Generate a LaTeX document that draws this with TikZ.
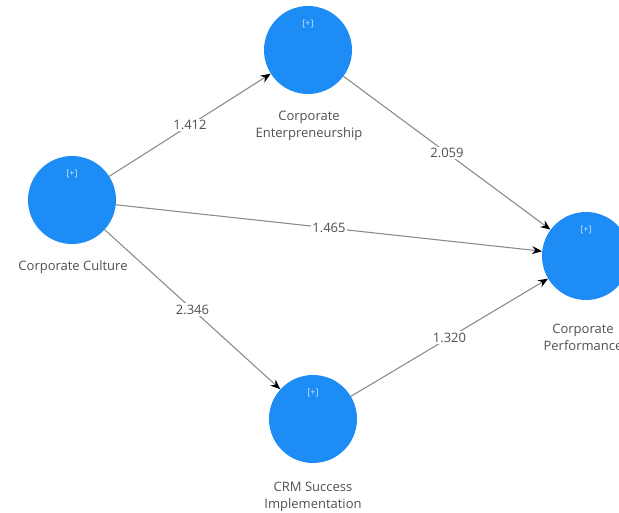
\documentclass[tikz,border=0pt]{standalone}
\usepackage{fontspec}
\setmainfont{Open Sans}
\usetikzlibrary{arrows.meta}
\definecolor{lvblue}{HTML}{1E8CF5}
\definecolor{txtgray}{HTML}{505050}
\definecolor{edgegray}{HTML}{8C8C8C}
\begin{document}
\begin{tikzpicture}[x=1pt,y=-1pt,
  lv/.style={circle, fill=lvblue, minimum size=88pt, inner sep=0pt},
  plus/.style={font=\fontsize{9}{10}\selectfont, text=white!80!lvblue, inner sep=0pt},
  lvlabel/.style={font=\fontsize{13}{17}\selectfont, text=txtgray, align=center, inner sep=0pt},
  pathline/.style={draw=edgegray, line width=1.1pt, -{Stealth[length=10pt,width=8pt,color=black]}},
  coef/.style={fill=white, font=\fontsize{13}{15}\selectfont, text=txtgray, inner sep=1.5pt}]
\useasboundingbox (0,0) rectangle (619,512);
% latent variables
\node[lv] (cc) at (72,200) {};
\node[lv] (ce) at (308,50) {};
\node[lv] (cp) at (586,256) {};
\node[lv] (crm) at (313,419) {};
% [+] markers
\node[plus] (ccplus) at (72,174) {[+]};
\node[plus] (ceplus) at (308,24) {[+]};
\node[plus] (cpplus) at (586,230) {[+]};
\node[plus] (crmplus) at (313,393) {[+]};
% names
\node[lvlabel] (cclab) at (73,267) {Corporate Culture};
\node[lvlabel] (celab) at (309,126) {Corporate\\Enterpreneurship};
\node[lvlabel] (cplab) at (583,337) {Corporate\\Performance};
\node[lvlabel] (crmlab) at (313,497) {CRM Success\\Implementation};
% paths
\draw[pathline] (cc) -- (ce) node[coef, pos=0.5] (c1) {1.412};
\draw[pathline] (ce) -- (cp) node[coef, pos=0.5] (c2) {2.059};
\draw[pathline] (cc) -- (cp) node[coef, pos=0.5] (c3) {1.465};
\draw[pathline] (cc) -- (crm) node[coef, pos=0.5] (c4) {2.346};
\draw[pathline] (crm) -- (cp) node[coef, pos=0.5] (c5) {1.320};
\end{tikzpicture}
\end{document}
